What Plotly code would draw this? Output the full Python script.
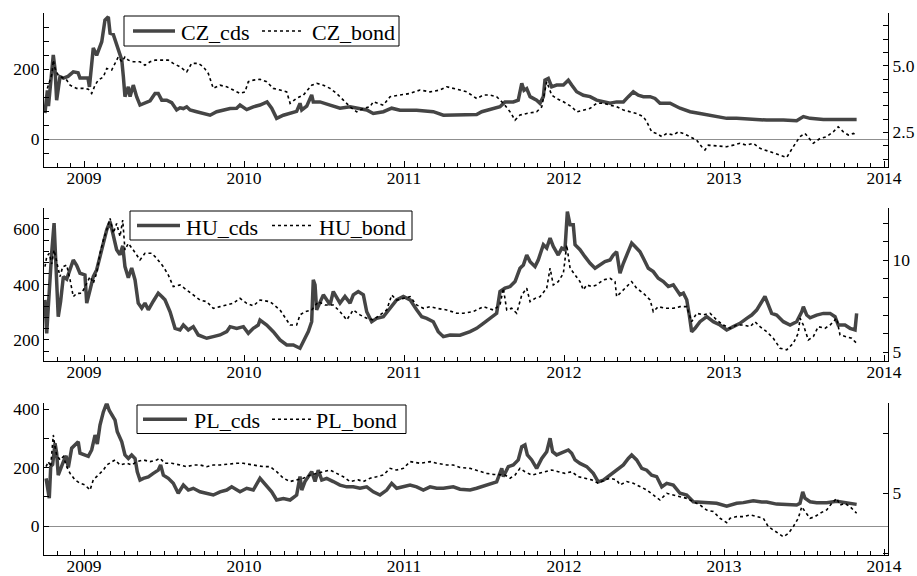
import plotly.graph_objects as go

# ---------------- data (decimal years, values) ----------------
cz_cds_t = [2008.756,2008.771,2008.778,2008.791,2008.808,2008.819,2008.829,2008.850,2008.871,2008.900,2008.933,2008.963,2008.975,2009.025,2009.034,2009.058,2009.079,2009.111,2009.131,2009.152,2009.163,2009.183,2009.194,2009.214,2009.236,2009.246,2009.256,2009.277,2009.288,2009.308,2009.329,2009.350,2009.381,2009.413,2009.444,2009.464,2009.486,2009.517,2009.548,2009.579,2009.600,2009.621,2009.642,2009.663,2009.704,2009.746,2009.788,2009.829,2009.871,2009.913,2009.954,2009.975,2010.017,2010.058,2010.100,2010.144,2010.173,2010.204,2010.246,2010.288,2010.329,2010.350,2010.361,2010.392,2010.423,2010.433,2010.475,2010.538,2010.600,2010.663,2010.725,2010.767,2010.808,2010.871,2010.923,2010.975,2011.079,2011.183,2011.246,2011.350,2011.454,2011.486,2011.558,2011.600,2011.631,2011.683,2011.714,2011.736,2011.750,2011.767,2011.788,2011.829,2011.850,2011.871,2011.881,2011.902,2011.923,2011.954,2011.996,2012.027,2012.048,2012.079,2012.121,2012.163,2012.204,2012.246,2012.288,2012.329,2012.371,2012.402,2012.433,2012.464,2012.496,2012.538,2012.569,2012.600,2012.663,2012.725,2012.788,2012.850,2012.913,2012.954,2013.017,2013.079,2013.163,2013.267,2013.371,2013.454,2013.496,2013.538,2013.621,2013.704,2013.788,2013.829]
cz_cds = [75,140,95,160,241,200,112,179,175,180,193,190,175,175,150,261,240,279,341,350,303,300,285,250,227,179,122,150,122,155,122,98,103,110,131,131,112,112,105,84,90,88,93,84,79,75,69,79,84,88,89,98,85,93,98,107,89,60,69,75,80,103,84,95,127,107,107,98,89,93,89,84,74,79,89,83,83,79,69,70,71,79,89,93,107,107,112,160,140,145,122,112,103,122,169,174,150,155,155,169,155,136,126,122,112,107,103,107,107,122,136,126,122,122,117,103,103,89,79,74,69,65,60,60,57,55,55,53,65,60,57,58,57,57]

cz_bond_t = [2008.771,2008.788,2008.800,2008.808,2008.819,2008.839,2008.871,2008.892,2008.913,2008.954,2008.996,2009.027,2009.048,2009.069,2009.089,2009.121,2009.142,2009.173,2009.194,2009.214,2009.236,2009.256,2009.277,2009.308,2009.350,2009.381,2009.413,2009.444,2009.486,2009.527,2009.558,2009.600,2009.642,2009.673,2009.714,2009.746,2009.777,2009.808,2009.850,2009.892,2009.933,2009.975,2010.006,2010.027,2010.058,2010.100,2010.142,2010.183,2010.225,2010.267,2010.288,2010.329,2010.371,2010.423,2010.454,2010.496,2010.538,2010.579,2010.621,2010.663,2010.704,2010.746,2010.788,2010.808,2010.871,2010.913,2010.975,2011.038,2011.100,2011.163,2011.225,2011.267,2011.350,2011.392,2011.454,2011.496,2011.538,2011.579,2011.621,2011.663,2011.694,2011.725,2011.767,2011.829,2011.861,2011.892,2011.923,2011.954,2011.996,2012.048,2012.079,2012.121,2012.163,2012.204,2012.246,2012.288,2012.329,2012.371,2012.413,2012.454,2012.496,2012.517,2012.548,2012.579,2012.611,2012.642,2012.683,2012.714,2012.746,2012.788,2012.829,2012.861,2012.881,2012.902,2012.954,2013.017,2013.058,2013.100,2013.142,2013.183,2013.225,2013.288,2013.350,2013.392,2013.433,2013.475,2013.506,2013.558,2013.600,2013.642,2013.683,2013.714,2013.746,2013.777,2013.808,2013.829]
cz_bond = [4.15,4.46,4.70,5.21,4.90,4.65,4.55,4.46,4.27,4.15,4.15,4.12,3.96,4.27,4.46,4.58,4.90,4.84,5.09,5.33,5.15,5.33,5.21,5.15,5.15,5.02,5.15,5.21,5.21,5.21,5.09,4.96,4.77,5.09,5.09,4.96,4.71,4.15,4.27,4.21,4.09,3.96,4.02,4.40,4.46,4.49,4.40,4.15,4.09,4.02,3.59,3.78,3.90,4.27,4.34,4.27,4.15,3.96,3.71,3.46,3.27,3.40,3.46,3.65,3.52,3.84,3.90,3.96,4.09,4.02,4.09,4.21,4.09,4.02,3.77,3.90,3.90,3.84,3.59,3.27,2.96,3.15,3.21,3.27,3.46,4.40,3.90,3.77,3.65,3.46,3.27,3.34,3.40,3.59,3.59,3.52,3.46,3.34,3.27,3.21,3.09,2.90,2.52,2.46,2.34,2.46,2.40,2.52,2.46,2.34,2.21,1.96,1.84,2.02,1.99,1.96,2.02,2.09,2.02,2.09,1.90,1.77,1.65,1.56,1.96,2.34,2.46,2.09,2.27,2.34,2.52,2.71,2.52,2.40,2.46,2.40]

hu_cds_t = [2008.756,2008.767,2008.777,2008.788,2008.798,2008.813,2008.825,2008.839,2008.854,2008.871,2008.892,2008.913,2008.933,2008.954,2008.975,2009.006,2009.017,2009.038,2009.058,2009.079,2009.100,2009.121,2009.142,2009.163,2009.183,2009.204,2009.225,2009.242,2009.256,2009.277,2009.298,2009.319,2009.339,2009.361,2009.381,2009.402,2009.433,2009.464,2009.486,2009.506,2009.538,2009.569,2009.600,2009.621,2009.652,2009.683,2009.714,2009.767,2009.808,2009.850,2009.892,2009.913,2009.954,2009.996,2010.027,2010.058,2010.089,2010.100,2010.142,2010.183,2010.225,2010.267,2010.308,2010.350,2010.381,2010.402,2010.423,2010.433,2010.444,2010.454,2010.496,2010.538,2010.558,2010.600,2010.631,2010.663,2010.683,2010.714,2010.746,2010.767,2010.798,2010.829,2010.871,2010.913,2010.954,2010.996,2011.038,2011.079,2011.111,2011.142,2011.183,2011.214,2011.246,2011.288,2011.350,2011.413,2011.454,2011.496,2011.538,2011.579,2011.600,2011.631,2011.663,2011.694,2011.725,2011.746,2011.767,2011.788,2011.819,2011.839,2011.871,2011.892,2011.913,2011.933,2011.964,2011.986,2012.006,2012.021,2012.038,2012.058,2012.069,2012.100,2012.131,2012.163,2012.194,2012.225,2012.256,2012.288,2012.308,2012.329,2012.350,2012.371,2012.392,2012.423,2012.444,2012.475,2012.496,2012.527,2012.558,2012.589,2012.621,2012.652,2012.683,2012.725,2012.746,2012.767,2012.783,2012.798,2012.819,2012.850,2012.892,2012.933,2012.975,2013.017,2013.058,2013.100,2013.142,2013.173,2013.204,2013.236,2013.256,2013.277,2013.298,2013.329,2013.371,2013.413,2013.454,2013.486,2013.496,2013.517,2013.538,2013.579,2013.621,2013.663,2013.694,2013.714,2013.756,2013.788,2013.819,2013.829]
hu_cds = [345,224,320,441,515,622,465,284,340,429,420,453,489,470,441,435,333,381,429,453,500,550,598,628,575,526,508,540,465,425,460,417,333,315,333,309,340,369,357,345,302,242,236,254,236,248,218,206,212,218,230,248,242,248,224,242,254,272,254,230,200,182,182,170,206,230,266,417,399,309,363,327,375,333,357,333,363,375,363,302,266,278,284,315,345,357,345,309,284,278,266,230,212,218,217,230,242,260,278,296,375,387,393,411,459,471,507,483,465,489,544,532,568,538,507,532,526,664,616,616,544,526,501,477,459,471,483,489,507,519,441,477,507,550,538,519,495,459,447,423,411,393,399,363,369,345,290,230,242,266,284,266,254,236,248,260,278,290,308,339,357,327,296,290,266,254,266,302,320,290,280,290,296,296,284,254,254,242,236,296]

hu_bond_t = [2008.756,2008.767,2008.783,2008.798,2008.813,2008.829,2008.850,2008.867,2008.892,2008.913,2008.933,2008.954,2008.986,2009.017,2009.038,2009.058,2009.079,2009.100,2009.121,2009.142,2009.163,2009.183,2009.204,2009.225,2009.242,2009.256,2009.277,2009.308,2009.350,2009.381,2009.423,2009.454,2009.496,2009.527,2009.558,2009.600,2009.642,2009.683,2009.725,2009.767,2009.808,2009.850,2009.892,2009.933,2009.975,2010.017,2010.058,2010.089,2010.100,2010.163,2010.225,2010.288,2010.329,2010.350,2010.381,2010.423,2010.464,2010.506,2010.558,2010.600,2010.642,2010.683,2010.725,2010.767,2010.808,2010.850,2010.892,2010.923,2010.954,2010.996,2011.038,2011.079,2011.121,2011.163,2011.204,2011.267,2011.329,2011.371,2011.433,2011.496,2011.558,2011.600,2011.621,2011.642,2011.673,2011.704,2011.736,2011.767,2011.788,2011.819,2011.850,2011.892,2011.913,2011.933,2011.964,2011.996,2012.017,2012.038,2012.069,2012.100,2012.121,2012.142,2012.173,2012.204,2012.246,2012.288,2012.319,2012.329,2012.361,2012.392,2012.423,2012.454,2012.496,2012.538,2012.558,2012.589,2012.631,2012.683,2012.725,2012.767,2012.798,2012.829,2012.871,2012.913,2012.954,2012.996,2013.038,2013.079,2013.121,2013.163,2013.194,2013.225,2013.267,2013.308,2013.350,2013.392,2013.433,2013.464,2013.475,2013.496,2013.527,2013.558,2013.589,2013.631,2013.663,2013.683,2013.704,2013.725,2013.767,2013.798,2013.829]
hu_bond = [9.65,10.20,10.38,9.80,10.56,9.90,9.11,9.65,9.74,8.93,8.02,8.20,8.21,8.75,9.11,8.75,9.30,10.38,11.10,11.65,12.28,11.47,12.00,11.29,12.19,10.56,10.92,10.56,10.02,10.38,10.38,10.11,9.65,9.20,8.57,8.66,8.39,8.11,7.84,7.75,7.39,7.48,7.57,7.66,7.93,7.66,7.52,7.75,7.84,7.75,7.30,6.48,6.48,7.03,7.20,7.30,7.75,7.57,7.57,7.21,6.76,7.30,7.03,6.85,6.76,7.03,7.30,8.11,7.84,7.93,8.02,7.57,7.39,7.48,7.39,7.30,7.12,7.12,7.21,7.48,7.30,7.57,8.48,7.30,7.39,7.12,8.11,8.48,7.75,7.93,8.02,8.48,9.57,8.66,8.84,9.29,10.83,9.57,9.20,8.84,8.39,8.66,8.57,8.66,8.93,9.02,8.84,8.02,8.30,8.57,8.84,8.48,8.21,7.84,7.21,7.48,7.39,7.39,7.48,7.48,6.66,7.12,7.03,7.12,6.76,6.48,6.30,6.48,6.48,6.39,6.66,6.39,6.12,5.76,5.22,5.13,5.49,6.03,6.85,6.48,5.67,5.85,6.39,6.30,6.48,6.66,6.85,5.94,5.85,5.76,5.49]

pl_cds_t = [2008.763,2008.771,2008.783,2008.792,2008.804,2008.819,2008.829,2008.839,2008.854,2008.871,2008.888,2008.902,2008.923,2008.944,2008.964,2008.975,2009.006,2009.027,2009.048,2009.069,2009.083,2009.100,2009.121,2009.142,2009.158,2009.173,2009.194,2009.208,2009.236,2009.256,2009.277,2009.298,2009.319,2009.333,2009.350,2009.371,2009.402,2009.433,2009.464,2009.479,2009.496,2009.527,2009.558,2009.589,2009.621,2009.652,2009.683,2009.725,2009.767,2009.808,2009.850,2009.892,2009.923,2009.975,2010.017,2010.058,2010.100,2010.142,2010.173,2010.204,2010.246,2010.288,2010.329,2010.350,2010.361,2010.381,2010.402,2010.423,2010.444,2010.464,2010.486,2010.517,2010.558,2010.600,2010.642,2010.683,2010.725,2010.767,2010.808,2010.850,2010.892,2010.923,2010.954,2010.996,2011.038,2011.079,2011.121,2011.163,2011.204,2011.246,2011.308,2011.350,2011.413,2011.454,2011.496,2011.538,2011.579,2011.611,2011.621,2011.652,2011.683,2011.714,2011.736,2011.756,2011.771,2011.798,2011.829,2011.861,2011.892,2011.913,2011.929,2011.954,2011.996,2012.027,2012.048,2012.069,2012.100,2012.142,2012.183,2012.214,2012.246,2012.288,2012.329,2012.371,2012.402,2012.423,2012.454,2012.486,2012.517,2012.548,2012.579,2012.611,2012.642,2012.683,2012.725,2012.767,2012.808,2012.871,2012.954,2013.017,2013.079,2013.121,2013.183,2013.236,2013.267,2013.329,2013.392,2013.454,2013.475,2013.492,2013.506,2013.538,2013.579,2013.642,2013.704,2013.767,2013.829]
pl_cds = [163,130,95,203,210,283,250,174,200,220,240,200,266,278,288,249,243,238,260,311,280,345,390,420,395,380,362,322,288,243,231,243,231,185,157,163,168,180,191,209,174,163,146,112,140,123,129,117,112,106,117,123,134,117,129,123,163,134,117,89,94,89,106,169,123,152,169,186,152,191,157,163,152,140,134,134,129,134,117,106,123,146,129,134,140,134,123,134,129,129,134,126,123,129,137,143,151,197,169,203,209,226,271,277,243,226,197,231,254,300,254,243,254,260,249,226,214,203,180,151,157,174,191,209,231,243,226,197,191,174,169,134,146,140,112,106,83,80,78,68,78,80,86,82,82,75,72,72,78,117,95,83,80,80,85,80,74]

pl_bond_t = [2008.763,2008.777,2008.792,2008.808,2008.819,2008.829,2008.850,2008.871,2008.892,2008.913,2008.944,2008.975,2009.006,2009.038,2009.058,2009.089,2009.121,2009.142,2009.173,2009.194,2009.225,2009.267,2009.298,2009.329,2009.371,2009.413,2009.454,2009.475,2009.506,2009.548,2009.600,2009.642,2009.683,2009.725,2009.767,2009.808,2009.850,2009.892,2009.954,2009.996,2010.058,2010.121,2010.163,2010.204,2010.246,2010.288,2010.329,2010.371,2010.413,2010.454,2010.496,2010.538,2010.579,2010.621,2010.663,2010.714,2010.746,2010.788,2010.829,2010.871,2010.913,2010.954,2010.996,2011.038,2011.100,2011.163,2011.204,2011.267,2011.308,2011.350,2011.413,2011.475,2011.517,2011.558,2011.600,2011.631,2011.663,2011.694,2011.725,2011.756,2011.798,2011.839,2011.881,2011.923,2011.964,2012.006,2012.048,2012.089,2012.131,2012.173,2012.214,2012.256,2012.288,2012.329,2012.350,2012.392,2012.433,2012.475,2012.517,2012.558,2012.600,2012.642,2012.683,2012.725,2012.767,2012.808,2012.850,2012.892,2012.933,2012.975,2013.017,2013.038,2013.079,2013.121,2013.163,2013.204,2013.246,2013.277,2013.308,2013.339,2013.371,2013.402,2013.433,2013.464,2013.486,2013.506,2013.538,2013.569,2013.600,2013.642,2013.673,2013.704,2013.725,2013.756,2013.788,2013.829]
pl_bond = [6.11,6.32,6.11,7.43,6.94,6.60,6.39,6.53,6.11,5.83,5.56,5.42,5.35,5.14,5.56,5.76,5.97,6.18,6.32,6.39,6.18,6.25,6.18,6.32,6.39,6.32,6.39,6.46,6.25,6.25,6.18,6.11,6.18,6.18,6.11,6.18,6.18,6.21,6.25,6.25,6.18,6.11,6.11,5.90,5.63,5.49,5.56,5.63,5.76,5.83,5.90,5.97,5.83,5.69,5.49,5.56,5.49,5.63,5.69,5.76,6.04,5.97,6.04,6.32,6.25,6.32,6.25,6.18,6.18,6.08,6.04,5.90,5.83,5.79,5.76,5.76,5.63,5.76,6.04,5.90,5.76,5.83,5.90,5.97,5.90,5.83,5.90,5.69,5.63,5.56,5.42,5.56,5.63,5.56,5.35,5.49,5.42,5.28,5.14,4.93,4.72,5.00,4.93,4.86,4.79,4.65,4.51,4.30,4.24,3.96,3.78,3.96,4.03,4.03,4.10,4.03,3.96,3.61,3.47,3.33,3.19,3.33,3.61,3.96,4.44,4.24,3.96,4.03,4.17,4.31,4.58,4.79,4.51,4.58,4.44,4.17]

year_ticks = [2009, 2010, 2011, 2012, 2013, 2014]

# ---------------- layout helpers ----------------
W, H = 917, 576
FONT = "Liberation Serif, Times New Roman, serif"
X0, X1 = 44, 888
CDS_COLOR = "#454545"

def fx(p):
    return p / W

def fy(p):
    return 1 - p / H

panels = [
    dict(name="CZ", cds_t=cz_cds_t, cds=cz_cds, bond_t=cz_bond_t, bond=cz_bond,
         top=13, bottom=167, lrange=[-79, 361], lticks=[0, 200], lminor=40,
         rrange=[1.2, 6.98], rticks=[2.5, 5.0], rtext=["2.5", "5.0"], rminor=0.5,
         box=(124, 16, 399, 46), s1=(133, 175), t1=180, s2=(262, 303), t2=311),
    dict(name="HU", cds_t=hu_cds_t, cds=hu_cds, bond_t=hu_bond_t, bond=hu_bond,
         top=207.7, bottom=360.7, lrange=[125, 678], lticks=[200, 400, 600], lminor=40,
         rrange=[4.54, 12.86], rticks=[5, 10], rtext=["5", "10"], rminor=1,
         box=(130, 211, 412, 240), s1=(137, 180), t1=185, s2=(272, 312), t2=318),
    dict(name="PL", cds_t=pl_cds_t, cds=pl_cds, bond_t=pl_bond_t, bond=pl_bond,
         top=403.3, bottom=555, lrange=[-99, 419.5], lticks=[0, 200, 400], lminor=100,
         rrange=[2.43, 8.75], rticks=[5], rtext=["5"], rminor=2.5,
         box=(137, 405, 406, 433.5), s1=(143, 187), t1=193, s2=(272, 312), t2=315),
]

fig = go.Figure()
layout = dict(
    template="none",
    width=W, height=H, autosize=False,
    margin=dict(l=0, r=0, t=0, b=0, pad=0),
    paper_bgcolor="white", plot_bgcolor="white",
    font=dict(family=FONT, size=17.5, color="black"),
    showlegend=False,
)
tickfont = dict(family=FONT, size=17.5, color="black")
shapes = []
annotations = []

for i, p in enumerate(panels):
    xa = "x" if i == 0 else f"x{i+1}"
    yl = "y" if i == 0 else f"y{2*i+1}"
    yr = f"y{2*i+2}"

    fig.add_trace(go.Scatter(
        x=p["cds_t"], y=p["cds"], xaxis=xa, yaxis=yl, mode="lines",
        name=f"{p['name']}_cds", line=dict(color=CDS_COLOR, width=3.5)))
    fig.add_trace(go.Scatter(
        x=p["bond_t"], y=p["bond"], xaxis=xa, yaxis=yr, mode="lines",
        name=f"{p['name']}_bond", line=dict(color="black", width=1.6, dash="dot")))

    dom = [fy(p["bottom"]), fy(p["top"])]
    xkey = "xaxis" if i == 0 else f"xaxis{i+1}"
    ylkey = "yaxis" if i == 0 else f"yaxis{2*i+1}"
    yrkey = f"yaxis{2*i+2}"

    layout[xkey] = dict(
        domain=[fx(X0), fx(X1)], anchor=yl, range=[2008.75, 2014.025], automargin=False,
        tickmode="array", tickvals=year_ticks, ticktext=[str(y) for y in year_ticks],
        ticks="inside", ticklen=6, tickwidth=1, tickcolor="black", ticklabelstandoff=-5,
        minor=dict(tickmode="linear", tick0=2008.75, dtick=1/12, ticks="inside",
                   ticklen=4, tickwidth=1, tickcolor="black", showgrid=False),
        showline=True, linecolor="black", linewidth=1, mirror=False,
        showgrid=False, zeroline=False, tickfont=tickfont, fixedrange=True)
    layout[ylkey] = dict(
        domain=dom, anchor=xa, range=p["lrange"], side="left", automargin=False,
        tickmode="array", tickvals=p["lticks"], ticktext=[str(v) for v in p["lticks"]],
        ticks="inside", ticklen=5, tickwidth=1, tickcolor="black",
        minor=dict(tickmode="linear", tick0=0, dtick=p["lminor"], ticks="inside",
                   ticklen=5, tickwidth=1, tickcolor="black", showgrid=False),
        showline=True, linecolor="black", linewidth=1,
        showgrid=False, zeroline=True, zerolinecolor="#8f8f8f", zerolinewidth=1,
        tickfont=tickfont, fixedrange=True)
    layout[yrkey] = dict(
        overlaying=yl, anchor=xa, side="right", range=p["rrange"], automargin=False,
        tickmode="array", tickvals=p["rticks"], ticktext=p["rtext"],
        ticks="inside", ticklen=5, tickwidth=1, tickcolor="black",
        minor=dict(tickmode="linear", tick0=0, dtick=p["rminor"], ticks="inside",
                   ticklen=5, tickwidth=1, tickcolor="black", showgrid=False),
        showline=True, linecolor="black", linewidth=1,
        showgrid=False, zeroline=False, tickfont=tickfont, fixedrange=True)

    # legend box drawn by hand (one per panel)
    bx0, by0, bx1, by1 = p["box"]
    ym = (by0 + by1) / 2
    shapes.append(dict(type="rect", xref="paper", yref="paper",
                       x0=fx(bx0), x1=fx(bx1), y0=fy(by1), y1=fy(by0),
                       line=dict(color="black", width=1), fillcolor="white", layer="above"))
    shapes.append(dict(type="line", xref="paper", yref="paper",
                       x0=fx(p["s1"][0]), x1=fx(p["s1"][1]), y0=fy(ym), y1=fy(ym),
                       line=dict(color=CDS_COLOR, width=3.5), layer="above"))
    shapes.append(dict(type="line", xref="paper", yref="paper",
                       x0=fx(p["s2"][0]), x1=fx(p["s2"][1]), y0=fy(ym), y1=fy(ym),
                       line=dict(color="black", width=1.6, dash="dot"), layer="above"))
    for tx, label in ((p["t1"], f"{p['name']}_cds"), (p["t2"], f"{p['name']}_bond")):
        annotations.append(dict(xref="paper", yref="paper", x=fx(tx), y=fy(ym + 1.5),
                                xanchor="left", yanchor="middle", text=label, showarrow=False,
                                borderpad=0, font=dict(family=FONT, size=22, color="black")))

layout["shapes"] = shapes
layout["annotations"] = annotations
fig.update_layout(**layout)

post = (
    "document.documentElement.style.margin='0';"
    "document.documentElement.style.overflow='hidden';"
    "document.body.style.margin='0';document.body.style.padding='0';"
    "document.body.style.overflow='hidden';"
    "var gd=document.getElementById('{plot_id}');"
    "gd.style.position='fixed';gd.style.left='0px';gd.style.top='0px';"
)
fig.write_html("out.html", config=dict(displayModeBar=False), post_script=post)
